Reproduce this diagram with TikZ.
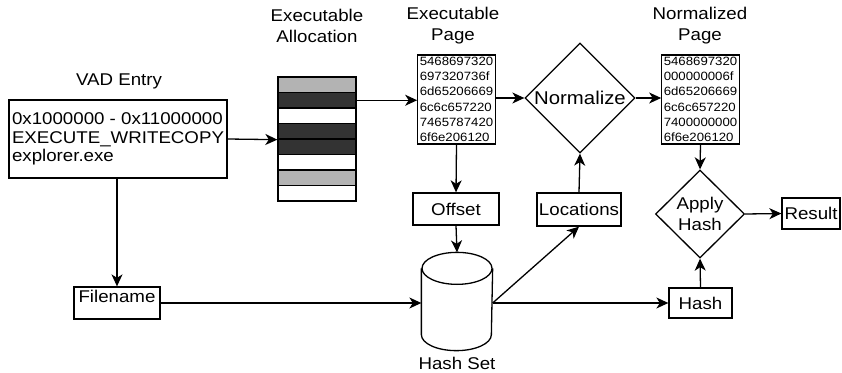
\documentclass[tikz,border=0pt]{standalone}
\usepackage{fontspec}
\setmainfont{Liberation Sans}[FakeStretch=1.1]
\usetikzlibrary{arrows.meta,shapes.geometric}
\definecolor{cellgray}{HTML}{B3B3B3}
\definecolor{celldark}{HTML}{333333}
\begin{document}
\begin{tikzpicture}[x=1pt, y=-1pt, line width=1.3pt,
  >={Stealth[length=12pt,width=11pt,inset=3.5pt]},
  every node/.style={font=\fontsize{17}{21}\selectfont},
  box/.style={draw, inner sep=2pt},
  hexbox/.style={draw, align=left, inner sep=2pt, font=\fontsize{12}{15.3}\selectfont},
  cell/.style={draw, minimum width=78pt, minimum height=15.5pt, inner sep=0pt},
  decision/.style={draw, diamond, inner sep=0pt, align=center}]
\useasboundingbox (0,0) rectangle (842,372);

\node[align=center] (allocTitle) at (317,26) {Executable\\Allocation};
\node[align=center] (pageTitle) at (453,26) {Executable\\Page};
\node[align=center] (normTitle) at (700,26) {Normalized\\Page};
\node (vadTitle) at (119,81) {VAD Entry};

\node[box, align=left, minimum width=218pt, minimum height=78pt,
  font=\fontsize{17}{18.5}\selectfont] (vad) at (118,139)
  {0x1000000 - 0x11000000\\EXECUTE\_WRITECOPY\\explorer.exe};

\foreach \c [count=\i from 0] in {cellgray,celldark,white,celldark,celldark,white,cellgray,white}
  \node[cell, fill=\c] (c\i) at (317,84.75+15.5*\i) {};

\node[hexbox] (exepage) at (456.5,99.5)
  {5468697320\\697320736f\\6d65206669\\6c6c657220\\7465787420\\6f6e206120};
\node[hexbox] (normpage) at (700.5,99.5)
  {5468697320\\000000006f\\6d65206669\\6c6c657220\\7400000000\\6f6e206120};

\node[decision, minimum width=110pt, minimum height=110pt, font=\fontsize{18.5}{21}\selectfont] (normalize) at (580,98) {Normalize};
\node[decision, minimum width=89pt, minimum height=88pt] (apply) at (700,214) {Apply\\Hash};

\node[box, minimum width=86pt, minimum height=32pt] (offset) at (456,209) {Offset};
\node[box, minimum width=82pt, minimum height=33pt] (locations) at (579,209.5) {Locations};
\node[box, minimum width=63pt, minimum height=30pt] (hash) at (700.5,303) {Hash};
\node[box, minimum width=58pt, minimum height=31pt] (result) at (811,213.5) {Result};
\node[box, minimum width=86pt, minimum height=32pt, text depth=13pt] (filename) at (117,303) {Filename};

\node[minimum width=70pt, minimum height=97pt, inner sep=0pt] (hashset) at (457,301.5) {};
\draw ([yshift=-16pt]hashset.north west) -- ([yshift=16pt]hashset.south west)
  arc[start angle=180, end angle=360, x radius=35pt, y radius=16pt]
  -- ([yshift=-16pt]hashset.north east);
\draw ([yshift=-16pt]hashset.north) ellipse[x radius=35pt, y radius=16pt];
\node (hashsetLabel) at (457,363) {Hash Set};

\coordinate (split) at (hashset.east |- hash.west);

\draw[->] (vad.east) -- (c3.south west);
\draw[->] (c1.east) -- (c1.east -| exepage.west);
\draw[->] (normalize.west -| exepage.east) -- (normalize.west);
\draw[->] (normalize.east) -- (normalize.east -| normpage.west);
\draw[->] (exepage.south) -- (offset.north);
\draw[->] (offset.south) -- (hashset.north);
\draw[->] (filename.north |- vad.south) -- (filename.north);
\draw[->] (filename.east) -- (filename.east -| hashset.west);
\draw[->] (split) -- (hash.west);
\draw[->] (split) -- (locations.south);
\draw[->] (locations.north) -- (normalize.south);
\draw[->] (normpage.south) -- (apply.north);
\draw[->] (hash.north) -- (apply.south);
\draw[->] (apply.east) -- (result.west);
\end{tikzpicture}
\end{document}
